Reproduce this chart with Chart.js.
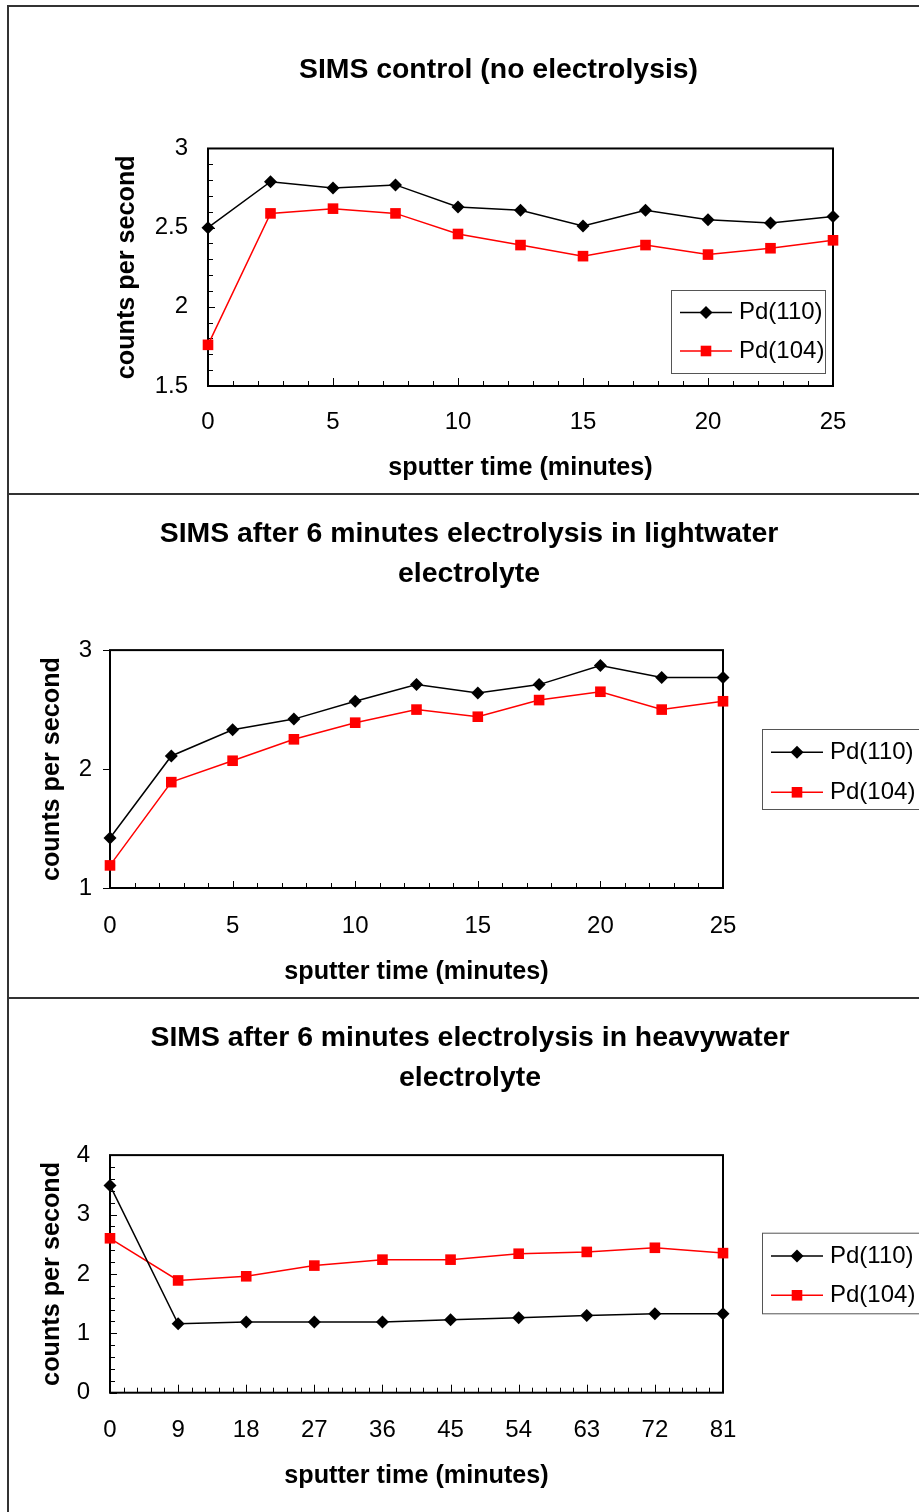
<!DOCTYPE html>
<html><head><meta charset="utf-8">
<script src="https://cdn.jsdelivr.net/npm/chart.js@4"></script>
<style>
html,body{margin:0;padding:0;background:#fff;overflow:hidden;width:919px;height:1512px;}
.frame{position:absolute;left:7px;top:5px;width:1000px;height:1600px;border-left:2px solid #333;border-top:2px solid #333;}
.sep{position:absolute;left:7px;width:1000px;height:2px;background:#333;}
canvas{position:absolute;left:0;}
</style></head><body>
<div class="frame"></div>
<div class="sep" style="top:493px"></div>
<div class="sep" style="top:997px"></div>
<canvas id="c1" width="919" height="494" style="top:0px"></canvas>
<canvas id="c2" width="919" height="504" style="top:494px"></canvas>
<canvas id="c3" width="919" height="514" style="top:998px"></canvas>
<script>
// ---- data ----
const seriesNames = ['Pd(110)', 'Pd(104)'];
const titleControl = 'SIMS control (no electrolysis)';
const titleLight = ['SIMS after 6 minutes electrolysis in lightwater', 'electrolyte'];
const titleHeavy = ['SIMS after 6 minutes electrolysis in heavywater', 'electrolyte'];
const xTitle = 'sputter time (minutes)';
const yTitle = 'counts per second';

const timeControl = [0, 2.5, 5, 7.5, 10, 12.5, 15, 17.5, 20, 22.5, 25];
const pd110Control = [2.50, 2.79, 2.75, 2.77, 2.63, 2.61, 2.51, 2.61, 2.55, 2.53, 2.57];
const pd104Control = [1.76, 2.59, 2.62, 2.59, 2.46, 2.39, 2.32, 2.39, 2.33, 2.37, 2.42];
const xTicksControl = [0, 5, 10, 15, 20, 25];
const yTicksControl = [1.5, 2, 2.5, 3];

const timeLight = [0, 2.5, 5, 7.5, 10, 12.5, 15, 17.5, 20, 22.5, 25];
const pd110Light = [1.42, 2.11, 2.33, 2.42, 2.57, 2.71, 2.64, 2.71, 2.87, 2.77, 2.77];
const pd104Light = [1.19, 1.89, 2.07, 2.25, 2.39, 2.50, 2.44, 2.58, 2.65, 2.50, 2.57];
const xTicksLight = [0, 5, 10, 15, 20, 25];
const yTicksLight = [1, 2, 3];

const timeHeavy = [0, 9, 18, 27, 36, 45, 54, 63, 72, 81];
const pd110Heavy = [3.49, 1.16, 1.19, 1.19, 1.19, 1.23, 1.26, 1.30, 1.33, 1.33];
const pd104Heavy = [2.60, 1.89, 1.96, 2.14, 2.24, 2.24, 2.34, 2.37, 2.44, 2.35];
const xTicksHeavy = [0, 9, 18, 27, 36, 45, 54, 63, 72, 81];
const yTicksHeavy = [0, 1, 2, 3, 4];

// ---- plugins ----
const FONT = "'Liberation Sans', Arial, sans-serif";
Chart.defaults.font.family = FONT;
Chart.defaults.color = '#000';

function drawMarker(ctx, style, x, y, r, color) {
  ctx.save();
  ctx.fillStyle = color;
  ctx.beginPath();
  if (style === 'rectRot') {
    ctx.moveTo(x - r, y); ctx.lineTo(x, y - r); ctx.lineTo(x + r, y); ctx.lineTo(x, y + r);
  } else {
    const s = r * Math.SQRT1_2;
    ctx.rect(x - s, y - s, 2 * s, 2 * s);
  }
  ctx.closePath();
  ctx.fill();
  ctx.restore();
}

const axisMarks = {
  id: 'axisMarks',
  beforeDatasetsDraw(chart, args, o) {
    const ctx = chart.ctx, a = chart.chartArea;
    const xs = chart.scales.x, ys = chart.scales.y;
    ctx.save();
    ctx.strokeStyle = '#000';
    ctx.lineWidth = 1;
    const eps = 1e-6;
    for (let i = 0; ; i++) {
      const v = xs.min + i * o.xMinor;
      if (v > xs.max + eps) break;
      const isMajor = Math.abs(v / o.xMajor - Math.round(v / o.xMajor)) < eps;
      const len = isMajor ? o.xMajorLen : o.xMinorLen;
      const px = Math.round(xs.getPixelForValue(v)) + 0.5;
      ctx.beginPath(); ctx.moveTo(px, a.bottom); ctx.lineTo(px, a.bottom - len); ctx.stroke();
    }
    for (let i = 0; ; i++) {
      const v = ys.min + i * o.yMinor;
      if (v > ys.max + eps) break;
      const isMajor = Math.abs(v / o.yMajor - Math.round(v / o.yMajor)) < eps;
      const py = Math.round(ys.getPixelForValue(v)) + 0.5;
      ctx.beginPath();
      if (isMajor) {
        ctx.moveTo(a.left - o.yMajorOut, py); ctx.lineTo(a.left + o.yMajorIn, py);
      } else {
        ctx.moveTo(a.left, py); ctx.lineTo(a.left + o.yMinorLen, py);
      }
      ctx.stroke();
    }
    ctx.lineWidth = 2;
    ctx.strokeRect(a.left, a.top, a.right - a.left, a.bottom - a.top);
    ctx.restore();
  }
};

const boxLegend = {
  id: 'boxLegend',
  afterDraw(chart, args, o) {
    const ctx = chart.ctx;
    ctx.save();
    ctx.strokeStyle = '#555';
    ctx.lineWidth = 1;
    ctx.strokeRect(o.x + 0.5, o.y + 0.5, o.w, o.h);
    ctx.font = "24px " + FONT;
    ctx.textBaseline = 'middle';
    ctx.textAlign = 'left';
    chart.data.datasets.forEach((ds, i) => {
      const y = o.rows[i];
      ctx.strokeStyle = ds.borderColor;
      ctx.lineWidth = ds.borderWidth;
      ctx.beginPath(); ctx.moveTo(o.lineX0, y); ctx.lineTo(o.lineX1, y); ctx.stroke();
      drawMarker(ctx, ds.pointStyle, (o.lineX0 + o.lineX1) / 2, y, ds.pointRadius, ds.pointBackgroundColor);
      ctx.fillStyle = '#000';
      ctx.fillText(ds.label, o.textX, y);
    });
    ctx.restore();
  }
};

function points(xs, ys) { return xs.map((x, i) => ({x: x, y: ys[i]})); }

function makePanel(id, p) {
  new Chart(document.getElementById(id), {
    type: 'line',
    data: {
      datasets: [
        { label: seriesNames[0], data: points(p.time, p.s110), borderColor: '#000000', borderWidth: 1.5,
          pointStyle: 'rectRot', pointRadius: 6.5, pointBackgroundColor: '#000000', pointBorderWidth: 0,
          pointBorderColor: '#000000', tension: 0, clip: false },
        { label: seriesNames[1], data: points(p.time, p.s104), borderColor: '#ff0000', borderWidth: 1.5,
          pointStyle: 'rect', pointRadius: 7.5, pointBackgroundColor: '#ff0000', pointBorderWidth: 0,
          pointBorderColor: '#ff0000', tension: 0, clip: false }
      ]
    },
    options: {
      responsive: false, animation: false, devicePixelRatio: 1,
      layout: { padding: { left: p.padL, right: 0, top: 0, bottom: 0 } },
      plugins: {
        legend: { display: false },
        tooltip: { enabled: false },
        title: { display: true, text: p.title, font: { size: 28.4, weight: 'bold', lineHeight: p.titleLH },
                 padding: { top: p.titlePT, bottom: p.titlePB }, color: '#000' },
        axisMarks: p.marks,
        boxLegend: p.legend
      },
      scales: {
        x: {
          type: 'linear', position: 'bottom', min: p.xTicks[0], max: p.xTicks[p.xTicks.length - 1],
          grid: { display: false, drawTicks: false }, border: { display: false },
          afterBuildTicks: s => { s.ticks = p.xTicks.map(v => ({ value: v })); },
          ticks: { font: { size: 24 }, padding: p.xTickPad, maxRotation: 0, autoSkip: false, color: '#000',
                   callback: v => String(v) },
          title: { display: true, text: xTitle, font: { size: 25.2, weight: 'bold' }, padding: { top: 0, bottom: p.xTitlePB }, color: '#000' },
          afterFit: s => { s.height = p.xH; }
        },
        y: {
          type: 'linear', position: 'left', min: p.yTicks[0], max: p.yTicks[p.yTicks.length - 1],
          grid: { display: false, drawTicks: false }, border: { display: false },
          afterBuildTicks: s => { s.ticks = p.yTicks.map(v => ({ value: v })); },
          ticks: { font: { size: 24 }, padding: p.yTickPad, color: '#000', callback: v => String(v) },
          title: { display: true, text: yTitle, font: { size: 25.2, weight: 'bold' }, padding: { top: p.yTitlePT, bottom: 0 }, color: '#000' },
          afterFit: s => { s.width = p.yW; }
        },
        y2: {
          type: 'linear', position: 'right', display: true,
          grid: { display: false, drawTicks: false }, border: { display: false },
          ticks: { display: false },
          afterFit: s => { s.width = p.rightW; }
        }
      }
    },
    plugins: [axisMarks, boxLegend]
  });
}

makePanel('c1', {
  title: titleControl, titleLH: 1.2, titlePT: 53.2, titlePB: 61.2,
  time: timeControl, s110: pd110Control, s104: pd104Control, xTicks: xTicksControl, yTicks: yTicksControl,
  padL: 78, yW: 130, rightW: 86, xH: 108, xTickPad: 21.5, xTitlePB: 11, yTickPad: 20, yTitlePT: 34,
  marks: { xMinor: 1, xMajor: 5, xMinorLen: 5, xMajorLen: 8, yMinor: 0.1, yMajor: 0.5, yMinorLen: 5, yMajorIn: 7, yMajorOut: 0 },
  legend: { x: 671, y: 290, w: 154, h: 83, rows: [312.5, 351], lineX0: 680, lineX1: 732, textX: 739 }
});
makePanel('c2', {
  title: titleLight, titleLH: 1.4, titlePT: 20.4, titlePB: 56.2,
  time: timeLight, s110: pd110Light, s104: pd104Light, xTicks: xTicksLight, yTicks: yTicksLight,
  padL: 19, yW: 91, rightW: 196, xH: 110, xTickPad: 23.5, xTitlePB: 11, yTickPad: 18, yTitlePT: 18,
  marks: { xMinor: 1, xMajor: 5, xMinorLen: 5, xMajorLen: 7, yMinor: 1, yMajor: 1, yMinorLen: 0, yMajorIn: 0, yMajorOut: 7 },
  legend: { x: 762, y: 235, w: 200, h: 80, rows: [258.3, 298.3], lineX0: 771, lineX1: 823, textX: 830 }
});
makePanel('c3', {
  title: titleHeavy, titleLH: 1.4, titlePT: 20.4, titlePB: 57.2,
  time: timeHeavy, s110: pd110Heavy, s104: pd104Heavy, xTicks: xTicksHeavy, yTicks: yTicksHeavy,
  padL: 21, yW: 89, rightW: 196, xH: 119.3, xTickPad: 23, xTitlePB: 21, yTickPad: 20, yTitlePT: 16,
  marks: { xMinor: 1.8, xMajor: 9, xMinorLen: 5, xMajorLen: 8, yMinor: 0.2, yMajor: 1, yMinorLen: 5, yMajorIn: 7, yMajorOut: 0 },
  legend: { x: 762, y: 234.7, w: 200, h: 80.6, rows: [258, 297.3], lineX0: 771, lineX1: 823, textX: 830 }
});
</script>
</body></html>
